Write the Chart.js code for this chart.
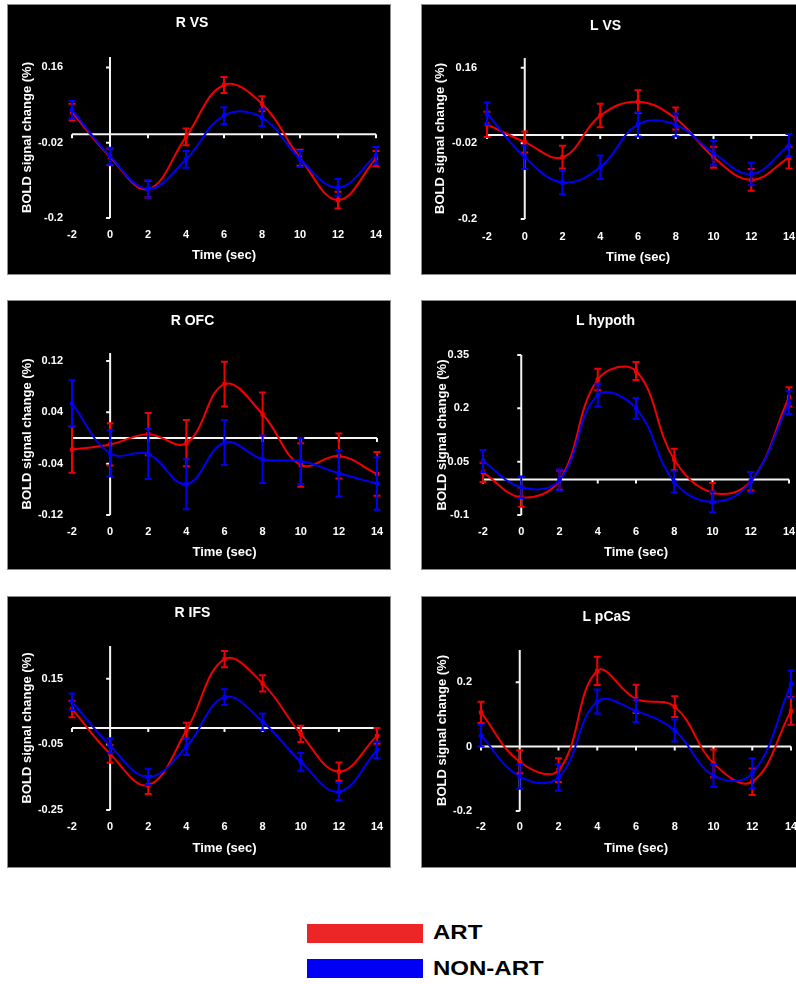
<!DOCTYPE html>
<html>
<head>
<meta charset="utf-8">
<script src="https://cdn.jsdelivr.net/npm/chart.js@4.4.1/dist/chart.umd.min.js"></script>
<style>
body { margin: 0; background: #fff; width: 796px; height: 984px; position: relative; overflow: hidden; font-family: "Liberation Sans", Arial, sans-serif; }
.panel { position: absolute; background: #000; outline: 1px solid #8c8c8c; }
.panel canvas { display: block; }
.key { position: absolute; left: 307px; width: 116px; height: 19px; }
.lab { position: absolute; left: 433px; font-weight: bold; font-size: 20px; line-height: 20px; color: #000; transform: scaleX(1.2); transform-origin: left center; white-space: nowrap; }
</style>
</head>
<body>
<div class="panel" style="left:8px;top:5px"><canvas id="rvs" width="382" height="269"></canvas></div>
<div class="panel" style="left:422px;top:5px"><canvas id="lvs" width="374" height="269"></canvas></div>
<div class="panel" style="left:8px;top:301px"><canvas id="rofc" width="382" height="268"></canvas></div>
<div class="panel" style="left:422px;top:301px"><canvas id="lhyp" width="374" height="268"></canvas></div>
<div class="panel" style="left:8px;top:597px"><canvas id="rifs" width="382" height="270"></canvas></div>
<div class="panel" style="left:422px;top:597px"><canvas id="lpca" width="374" height="270"></canvas></div>

<div class="key" style="top:924px;background:#ec2626"></div>
<div class="lab" style="top:922px">ART</div>
<div class="key" style="top:959px;background:#0000f5"></div>
<div class="lab" style="top:958px">NON-ART</div>

<script>
const timeSec = [-2, 0, 2, 4, 6, 8, 10, 12, 14];

// R VS
const rvsArt = [0.053, -0.054, -0.131, -0.006, 0.118, 0.073, -0.056, -0.157, -0.058];
const rvsArtErr = [0.02, 0.02, 0.02, 0.02, 0.019, 0.018, 0.019, 0.02, 0.018];
const rvsNon = [0.059, -0.052, -0.13, -0.06, 0.045, 0.04, -0.059, -0.127, -0.05];
const rvsNonErr = [0.021, 0.02, 0.021, 0.02, 0.02, 0.02, 0.019, 0.02, 0.02];
const rvsTicks = [0.16, -0.02, -0.2];

// L VS
const lvsArt = [0.025, -0.017, -0.053, 0.046, 0.079, 0.039, -0.053, -0.107, -0.054];
const lvsArtErr = [0.03, 0.025, 0.027, 0.028, 0.027, 0.026, 0.025, 0.026, 0.026];
const lvsNon = [0.051, -0.053, -0.113, -0.077, 0.025, 0.024, -0.043, -0.093, -0.025];
const lvsNonErr = [0.026, 0.028, 0.028, 0.028, 0.029, 0.027, 0.029, 0.027, 0.027];
const lvsTicks = [0.16, -0.02, -0.2];

// R OFC
const rofcArt = [-0.018, -0.01, 0.006, -0.008, 0.084, 0.037, -0.042, -0.028, -0.056];
const rofcArtErr = [0.036, 0.033, 0.033, 0.036, 0.035, 0.034, 0.034, 0.035, 0.034];
const rofcNon = [0.054, -0.024, -0.025, -0.072, -0.007, -0.033, -0.036, -0.055, -0.071];
const rofcNonErr = [0.036, 0.036, 0.039, 0.039, 0.035, 0.037, 0.036, 0.036, 0.041];
const rofcTicks = [0.12, 0.04, -0.04, -0.12];

// L hypoth
const lhypArt = [0.02, -0.05, -0.002, 0.281, 0.305, 0.056, -0.037, -0.005, 0.232];
const lhypArtErr = [0.027, 0.027, 0.027, 0.03, 0.025, 0.03, 0.027, 0.026, 0.027];
const lhypNon = [0.052, -0.022, -0.002, 0.237, 0.2, -0.007, -0.063, -0.007, 0.216];
const lhypNonErr = [0.031, 0.03, 0.03, 0.032, 0.029, 0.03, 0.029, 0.028, 0.032];
const lhypTicks = [0.35, 0.2, 0.05, -0.1];

// R IFS
const rifsArt = [0.058, -0.079, -0.174, -0.008, 0.21, 0.136, -0.018, -0.133, -0.024];
const rifsArtErr = [0.025, 0.027, 0.027, 0.024, 0.025, 0.025, 0.025, 0.028, 0.024];
const rifsNon = [0.08, -0.054, -0.149, -0.057, 0.094, 0.019, -0.103, -0.194, -0.067];
const rifsNonErr = [0.025, 0.023, 0.025, 0.025, 0.024, 0.025, 0.027, 0.026, 0.025];
const rifsTicks = [0.15, -0.05, -0.25];

// L pCaS
const lpcaArt = [0.106, -0.047, -0.073, 0.235, 0.148, 0.124, -0.052, -0.109, 0.111];
const lpcaArtErr = [0.033, 0.036, 0.037, 0.044, 0.044, 0.032, 0.043, 0.041, 0.043];
const lpcaNon = [0.034, -0.093, -0.096, 0.14, 0.111, 0.05, -0.09, -0.083, 0.194];
const lpcaNonErr = [0.034, 0.038, 0.041, 0.037, 0.035, 0.034, 0.035, 0.047, 0.042];
const lpcaTicks = [0.2, 0, -0.2];

const ART_RED = '#f00000';
const NON_BLUE = '#0000f2';

// where things sit inside each canvas: area = [left, right, top, bottom]
const frames = {
    rvs:  { w: 382, h: 269, area: [64, 368, 52, 213], titleY: 18, xLabY: 230, xTitleY: 250, yLabR: 55, yTitleX: 19 },
    lvs:  { w: 374, h: 269, area: [65, 367, 53, 214], titleY: 21, xLabY: 232, xTitleY: 252, yLabR: 55, yTitleX: 18 },
    rofc: { w: 382, h: 268, area: [64, 369, 52, 214], titleY: 20, xLabY: 231, xTitleY: 251, yLabR: 55, yTitleX: 19 },
    lhyp: { w: 374, h: 268, area: [61, 367, 54, 214], titleY: 20, xLabY: 231, xTitleY: 251, yLabR: 47, yTitleX: 20 },
    rifs: { w: 382, h: 270, area: [64, 369, 49, 213], titleY: 16, xLabY: 230, xTitleY: 251, yLabR: 55, yTitleX: 19 },
    lpca: { w: 374, h: 270, area: [59, 369, 53, 214], titleY: 20, xLabY: 230, xTitleY: 251, yLabR: 50, yTitleX: 20 }
};

Chart.defaults.font.family = '"Liberation Sans", Arial, sans-serif';

// white axes crossing at (0,0), like the excel plots
const axesAtZero = {
    id: 'axesAtZero',
    beforeDatasetsDraw(chart) {
        const { ctx, scales: { x, y } } = chart;
        const y0 = y.getPixelForValue(0);
        const x0 = x.getPixelForValue(0);
        ctx.save();
        ctx.strokeStyle = '#f4f4f4';
        ctx.lineWidth = 2;
        ctx.beginPath();
        ctx.moveTo(x.getPixelForValue(x.min), y0);
        ctx.lineTo(x.getPixelForValue(x.max), y0);
        x.ticks.forEach(t => {
            const px = x.getPixelForValue(t.value);
            ctx.moveTo(px, y0);
            ctx.lineTo(px, y0 + 4);
        });
        ctx.moveTo(x0, y.getPixelForValue(y.max));
        ctx.lineTo(x0, y.getPixelForValue(y.min));
        y.ticks.forEach(t => {
            const py = y.getPixelForValue(t.value);
            ctx.moveTo(x0 - 4, py);
            ctx.lineTo(x0, py);
        });
        ctx.stroke();
        ctx.restore();
    }
};

const errorBars = {
    id: 'errorBars',
    afterDatasetDraw(chart, args) {
        const ds = chart.data.datasets[args.index];
        const y = chart.scales.y;
        const ctx = chart.ctx;
        ctx.save();
        ctx.strokeStyle = ds.borderColor;
        ctx.lineWidth = 2;
        ctx.beginPath();
        args.meta.data.forEach((pt, i) => {
            const v = ds.data[i].y;
            const e = ds.errors[i];
            const top = y.getPixelForValue(v + e);
            const bot = y.getPixelForValue(v - e);
            ctx.moveTo(pt.x, top); ctx.lineTo(pt.x, bot);
            ctx.moveTo(pt.x - 3.5, top); ctx.lineTo(pt.x + 3.5, top);
            ctx.moveTo(pt.x - 3.5, bot); ctx.lineTo(pt.x + 3.5, bot);
        });
        ctx.stroke();
        ctx.restore();
    }
};

function series(label, vals, errs, color, order) {
    return {
        label: label,
        data: timeSec.map((t, i) => ({ x: t, y: vals[i] })),
        errors: errs,
        borderColor: color,
        backgroundColor: color,
        borderWidth: 2,
        tension: 0.4,
        pointStyle: 'rect',
        pointRadius: 3,
        pointBorderWidth: 0,
        fill: false,
        clip: false,
        order: order
    };
}

function panel(id, title, art, artErr, non, nonErr, yMin, yMax, yTicks) {
    const f = frames[id];
    return new Chart(document.getElementById(id), {
        type: 'line',
        data: {
            datasets: [
                series('ART', art, artErr, ART_RED, 1),
                series('NON-ART', non, nonErr, NON_BLUE, 0)
            ]
        },
        options: {
            responsive: false,
            animation: false,
            events: [],
            layout: { padding: { left: 0, top: 0, bottom: 0, right: f.w - f.area[1] } },
            plugins: {
                legend: { display: false },
                tooltip: { enabled: false },
                title: {
                    display: true,
                    text: title,
                    color: '#fff',
                    font: { size: 14, weight: 'bold' },
                    padding: { top: f.titleY - 8.4, bottom: f.area[2] - f.titleY - 8.4 }
                }
            },
            scales: {
                x: {
                    type: 'linear',
                    min: -2,
                    max: 14,
                    grid: { display: false, drawTicks: false },
                    border: { display: false },
                    ticks: {
                        stepSize: 2,
                        color: '#fff',
                        font: { size: 11, weight: 'bold' },
                        padding: f.xLabY - f.area[3] - 6.6,
                        autoSkip: false,
                        maxRotation: 0
                    },
                    title: {
                        display: true,
                        text: 'Time (sec)',
                        color: '#fff',
                        font: { size: 13, weight: 'bold' },
                        padding: { top: 0, bottom: f.h - f.xTitleY - 7.8 }
                    },
                    afterFit(s) {
                        s.height = f.h - f.area[3];
                        s.paddingLeft = 0;
                        s.paddingRight = 0;
                    }
                },
                y: {
                    type: 'linear',
                    min: yMin,
                    max: yMax,
                    grid: { display: false, drawTicks: false },
                    border: { display: false },
                    afterBuildTicks(s) {
                        s.ticks = yTicks.map(v => ({ value: v }));
                    },
                    ticks: {
                        color: '#fff',
                        font: { size: 11, weight: 'bold' },
                        padding: f.area[0] - f.yLabR,
                        callback: v => String(+v.toFixed(3))
                    },
                    title: {
                        display: true,
                        text: 'BOLD signal change (%)',
                        color: '#fff',
                        font: { size: 13, weight: 'bold' },
                        padding: { top: f.yTitleX - 7.8, bottom: 0 }
                    },
                    afterFit(s) {
                        s.width = f.area[0];
                        s.paddingTop = 0;
                        s.paddingBottom = 0;
                    }
                }
            }
        },
        plugins: [axesAtZero, errorBars]
    });
}

panel('rvs', 'R VS', rvsArt, rvsArtErr, rvsNon, rvsNonErr, -0.2, 0.185, rvsTicks);
panel('lvs', 'L VS', lvsArt, lvsArtErr, lvsNon, lvsNonErr, -0.2, 0.183, lvsTicks);
panel('rofc', 'R OFC', rofcArt, rofcArtErr, rofcNon, rofcNonErr, -0.12, 0.1325, rofcTicks);
panel('lhyp', 'L hypoth', lhypArt, lhypArtErr, lhypNon, lhypNonErr, -0.1, 0.35, lhypTicks);
panel('rifs', 'R IFS', rifsArt, rifsArtErr, rifsNon, rifsNonErr, -0.25, 0.25, rifsTicks);
panel('lpca', 'L pCaS', lpcaArt, lpcaArtErr, lpcaNon, lpcaNonErr, -0.2, 0.3, lpcaTicks);
</script>
</body>
</html>
